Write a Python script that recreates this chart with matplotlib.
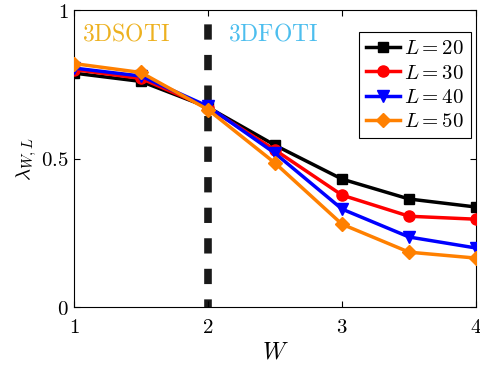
import matplotlib
matplotlib.use('Agg')
import matplotlib.pyplot as plt

W = [1, 1.5, 2, 2.5, 3, 3.5, 4]
lam_20 = [0.788, 0.760, 0.673, 0.545, 0.431, 0.364, 0.337]
lam_30 = [0.800, 0.770, 0.672, 0.529, 0.377, 0.306, 0.296]
lam_40 = [0.805, 0.778, 0.676, 0.518, 0.330, 0.236, 0.199]
lam_50 = [0.820, 0.790, 0.665, 0.485, 0.279, 0.185, 0.165]
labels = ['$L=20$', '$L=30$', '$L=40$', '$L=50$']

plt.rcParams['mathtext.fontset'] = 'cm'
plt.rcParams['font.family'] = 'serif'
plt.rcParams['font.serif'] = ['DejaVu Serif']

fig = plt.figure(figsize=(4.8, 3.75), dpi=100)
ax = fig.add_axes([0.154, 0.181, 0.838, 0.792])

ax.axvline(2, color='#1a1a1a', lw=5.5, ls=(1.0, (2.0, 2.0)), zorder=1)

ax.plot(W, lam_20, '-s', color='k', lw=2.5, ms=7, label=labels[0], zorder=3)
ax.plot(W, lam_30, '-o', color='r', lw=2.5, ms=8, label=labels[1], zorder=3)
ax.plot(W, lam_40, '-v', color='b', lw=2.5, ms=8, label=labels[2], zorder=3)
ax.plot(W, lam_50, '-D', color='#FF8000', lw=2.5, ms=7, label=labels[3], zorder=3)

ax.text(1.06, 0.918, r'$\mathrm{3DSOTI}$', color='#EDB120', fontsize=17, va='center')
ax.text(2.15, 0.918, r'$\mathrm{3DFOTI}$', color='#4DBEEE', fontsize=17, va='center')

ax.set_xlim(1, 4)
ax.set_ylim(0, 1)
ax.set_xticks([1, 2, 3, 4])
ax.set_xticklabels(['$1$', '$2$', '$3$', '$4$'])
ax.set_yticks([0, 0.5, 1])
ax.set_yticklabels(['$0$', '$0.5$', '$1$'])
ax.tick_params(direction='in', labelsize=15, length=4, top=True, right=True)
ax.tick_params(axis='x', pad=8)
ax.set_xlabel('$W$', fontsize=17, labelpad=2)
ax.set_ylabel('$\\lambda_{W,L}$', fontsize=15, labelpad=2)

leg = ax.legend(loc='upper right', fontsize=15, handlelength=1.6, handletextpad=0.2,
                borderpad=0.35, labelspacing=0.25, fancybox=False, framealpha=1,
                bbox_to_anchor=(0.987, 0.926), borderaxespad=0)
leg.get_frame().set_edgecolor('k')
leg.get_frame().set_linewidth(0.8)

fig.savefig('out.png', dpi=100)
